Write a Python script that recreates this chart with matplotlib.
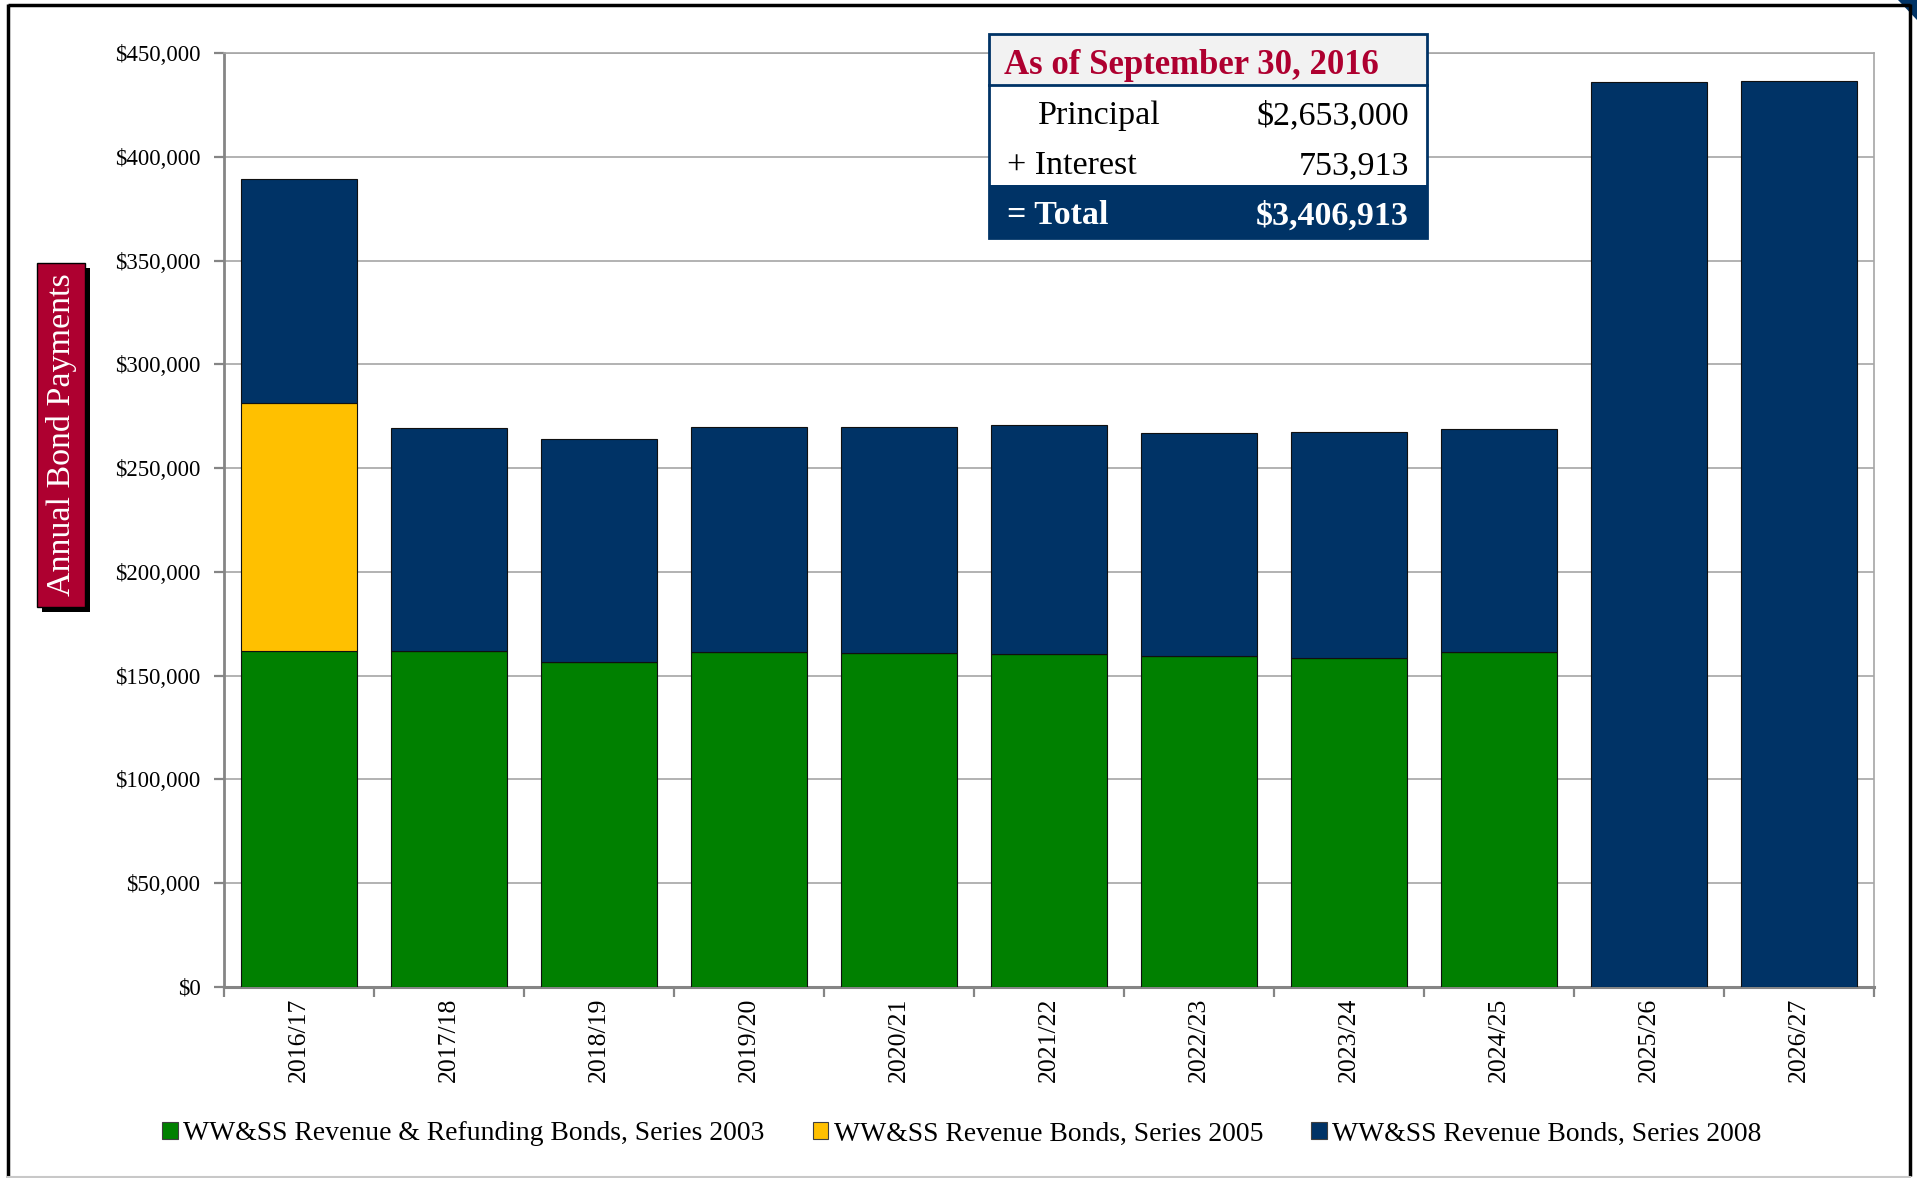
import matplotlib
matplotlib.use("Agg")
import matplotlib.pyplot as plt
from matplotlib.patches import Rectangle, Polygon
import numpy as np

# ---- data ----
years = ["2016/17", "2017/18", "2018/19", "2019/20", "2020/21", "2021/22",
         "2022/23", "2023/24", "2024/25", "2025/26", "2026/27"]
series_2003 = [162000, 162000, 156700, 161500, 161100, 160400, 159500, 158400, 161500, 0, 0]
series_2005 = [119500, 0, 0, 0, 0, 0, 0, 0, 0, 0, 0]
series_2008 = [107600, 107500, 107400, 108400, 108900, 110300, 107600, 108900, 107300, 435900, 436500]
series_names = ["WW&SS Revenue & Refunding Bonds, Series 2003",
                "WW&SS Revenue Bonds, Series 2005",
                "WW&SS Revenue Bonds, Series 2008"]
y_ticks = list(range(0, 450001, 50000))
y_label = "Annual Bond Payments"
table_title = "As of September 30, 2016"
table_rows = [("Principal", "$2,653,000"), ("+ Interest", "753,913")]
table_total = ("= Total", "$3,406,913")

# ---- style ----
FONT = "Liberation Serif"
plt.rcParams["font.family"] = [FONT, "DejaVu Serif"]
GREEN = "#008000"
YELLOW = "#FFC000"
NAVY = "#003366"
RED = "#AE0030"
GRID = "#A6A6A6"
AXIS = "#858585"

W, H = 1917, 1178
fig = plt.figure(figsize=(W / 100, H / 100), dpi=100)
fig.patch.set_facecolor("white")

L, R, T, B = 224, 1874, 53, 987
ax = fig.add_axes([L / W, 1 - B / H, (R - L) / W, (B - T) / H])

x = np.arange(len(years))
s03 = np.array(series_2003)
s05 = np.array(series_2005)
s08 = np.array(series_2008)
bw = 0.773
b1 = ax.bar(x, s03, bw, color=GREEN, edgecolor="#101010", linewidth=0.8, zorder=3, label=series_names[0])
b2 = ax.bar(x, s05, bw, bottom=s03, color=YELLOW, edgecolor="#101010", linewidth=0.8, zorder=3, label=series_names[1])
b3 = ax.bar(x, s08, bw, bottom=s03 + s05, color=NAVY, edgecolor="#101010", linewidth=0.8, zorder=3, label=series_names[2])

ax.set_xlim(-0.5, len(years) - 0.5)
ax.set_ylim(0, 450000)
ax.set_yticks(y_ticks)
ax.set_yticklabels(["$0" if v == 0 else "${:,.0f}".format(v) for v in y_ticks])
ax.yaxis.grid(True, color=GRID, linewidth=1.2, zorder=0)
ax.set_axisbelow(True)

ax.set_xticks(x)
ax.set_xticklabels(years, rotation=90, va="top", ha="center")
ax.set_xticks(np.arange(-0.5, len(years), 1.0), minor=True)
ax.tick_params(axis="x", which="major", length=0, pad=8, labelsize=18.5)
ax.tick_params(axis="x", which="minor", length=7, width=1.6, color=AXIS)
ax.tick_params(axis="y", which="major", length=7, width=1.6, color=AXIS, pad=10, labelsize=16.5)

ax.spines["left"].set_color(AXIS)
ax.spines["left"].set_linewidth(2.0)
ax.spines["bottom"].set_color(AXIS)
ax.spines["bottom"].set_linewidth(2.2)
ax.spines["top"].set_color(GRID)
ax.spines["top"].set_linewidth(1.2)
ax.spines["right"].set_color(GRID)
ax.spines["right"].set_linewidth(1.2)

# legend
leg = fig.legend(handles=[b1, b2, b3], loc="center",
                 bbox_to_anchor=(962 / W, 1 - 1134 / H), ncol=3, frameon=False,
                 fontsize=19.9, handlelength=0.55, handleheight=0.55,
                 handletextpad=0.2, columnspacing=1.75)
for h in leg.legend_handles:
    h.set_edgecolor("#404040")
    h.set_linewidth(0.8)

# overlay in pixel coordinates
ov = fig.add_axes([0, 0, 1, 1], zorder=10)
ov.set_xlim(0, W)
ov.set_ylim(H, 0)
ov.axis("off")
ov.patch.set_alpha(0)

# outer frame
ov.plot([8, 1910], [4.5, 4.5], color="black", lw=2.5, solid_capstyle="butt")
ov.plot([8, 8], [4, H], color="black", lw=2.5, solid_capstyle="butt")
ov.plot([1910, 1910], [4, 1176], color="black", lw=2.5, solid_capstyle="butt")
ov.plot([8, 1910], [1177, 1177], color="#C8C8C8", lw=1.5)
ov.add_patch(Polygon([[1898, 0], [1917, 0], [1917, 20]], closed=True, color=NAVY, lw=0))

# y-label box with shadow
ov.add_patch(Rectangle((42, 268), 48, 344, facecolor="black", edgecolor="none"))
ov.add_patch(Rectangle((37, 263), 48, 344, facecolor=RED, edgecolor="black", lw=1.0))
ov.text(62, 435, y_label, rotation=90, color="white", fontsize=24.5,
        ha="center", va="center")

# summary table
bx0, by0, bx1, by1 = 989, 34, 1427, 238
ov.add_patch(Rectangle((bx0, by0), bx1 - bx0, 51, facecolor="#F2F2F2", edgecolor="none"))
ov.add_patch(Rectangle((bx0, by0 + 51), bx1 - bx0, 100, facecolor="white", edgecolor="none"))
ov.add_patch(Rectangle((bx0, 185), bx1 - bx0, by1 - 185, facecolor=NAVY, edgecolor="none"))
ov.add_patch(Rectangle((bx0, by0), bx1 - bx0, by1 - by0, facecolor="none", edgecolor=NAVY, lw=2.0))
ov.plot([bx0, bx1], [85, 85], color=NAVY, lw=2.0)
ov.text(bx0 + 15, 65, table_title, color=RED, fontsize=25, fontweight="bold",
        ha="left", va="center")
row_y = [116, 166]
label_x = [bx0 + 49, bx0 + 18]
for (lab, val), yy, lx in zip(table_rows, row_y, label_x):
    ov.text(lx, yy, lab, color="black", fontsize=24.5, ha="left", va="center")
    ov.text(bx1 - 18, yy, val, color="black", fontsize=24.5, ha="right", va="center")
ov.text(bx0 + 18, 216, table_total[0], color="white", fontsize=24.5, fontweight="bold",
        ha="left", va="center")
ov.text(bx1 - 18, 216, table_total[1], color="white", fontsize=24.5, fontweight="bold",
        ha="right", va="center")

fig.savefig("out.png", dpi=100)
